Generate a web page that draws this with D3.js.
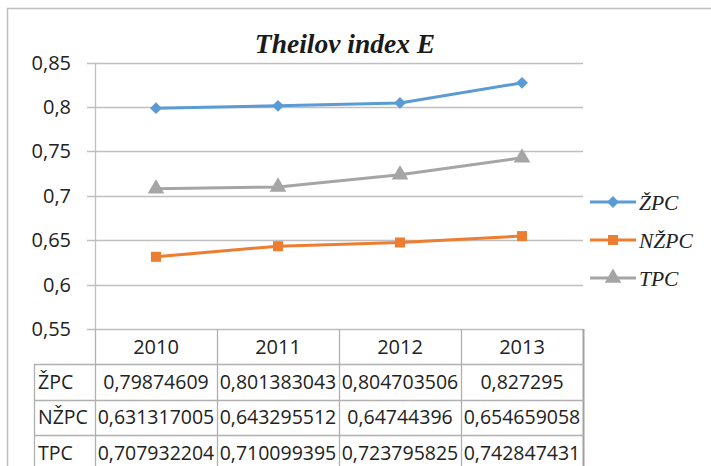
<!DOCTYPE html>
<html><head><meta charset="utf-8">
<script src="https://cdn.jsdelivr.net/npm/d3@7"></script>
<style>html,body{margin:0;padding:0;background:#fff;}svg{display:block;}</style>
</head><body>
<svg id="c" width="711" height="466"></svg>
<script>
const title = "Theilov index E";
const years = ["2010", "2011", "2012", "2013"];
const seriesNames = ["ŽPC", "NŽPC", "TPC"];
const zpc = [0.79874609, 0.801383043, 0.804703506, 0.827295];
const nzpc = [0.631317005, 0.643295512, 0.64744396, 0.654659058];
const tpc = [0.707932204, 0.710099395, 0.723795825, 0.742847431];
const zpcText = ["0,79874609", "0,801383043", "0,804703506", "0,827295"];
const nzpcText = ["0,631317005", "0,643295512", "0,64744396", "0,654659058"];
const tpcText = ["0,707932204", "0,710099395", "0,723795825", "0,742847431"];
const yTicks = [0.55, 0.6, 0.65, 0.7, 0.75, 0.8, 0.85];
const yTickLabels = ["0,55", "0,6", "0,65", "0,7", "0,75", "0,8", "0,85"];

const colors = ["#5B9BD5", "#ED7D31", "#A5A5A5"];
const values = [zpc, nzpc, tpc];
const texts = [zpcText, nzpcText, tpcText];
const markers = [d3.symbolSquare, d3.symbolSquare, d3.symbolTriangle];
const markerSizes = [70, 100, 120];
const markerRot = [45, 0, 0];

const svg = d3.select("#c");
const gridCol = "#BFBFBF", tableCol = "#B0B0B0";
const sansFont = "'Open Sans', sans-serif";
const serifFont = "'Liberation Serif', 'Times New Roman', serif";

// outer border
svg.append("path").attr("d", "M7.5,466 V8.5 H711").attr("fill", "none").attr("stroke", "#C0C0C0").attr("stroke-width", 1.5);

const x = d3.scaleBand().domain(years).range([95, 583]);
const y = d3.scaleLinear().domain([0.55, 0.85]).range([329, 62.7]);

// gridlines
svg.append("g").selectAll("line").data(yTicks).join("line")
  .attr("x1", 87).attr("x2", 583)
  .attr("y1", d => Math.round(y(d)) + 0.5).attr("y2", d => Math.round(y(d)) + 0.5)
  .attr("stroke", gridCol).attr("stroke-width", 1.3);

// y axis line
svg.append("line").attr("x1", 95.5).attr("x2", 95.5).attr("y1", y(0.85)).attr("y2", y(0.55))
  .attr("stroke", gridCol).attr("stroke-width", 1.3);

// y labels
svg.append("g").selectAll("text").data(yTicks).join("text")
  .attr("x", 71).attr("y", d => y(d)).attr("dy", "0.35em")
  .attr("text-anchor", "end").attr("font-family", sansFont).attr("font-size", 20)
  .attr("fill", "#222").text((d, i) => yTickLabels[i]);

// title
svg.append("text").attr("x", 345).attr("y", 53).attr("text-anchor", "middle")
  .attr("font-family", serifFont).attr("font-style", "italic").attr("font-weight", "bold")
  .attr("font-size", 27.5).attr("fill", "#1a1a1a").text(title);

// lines & markers
const cx = d => x(d) + x.bandwidth() / 2;
values.forEach((vals, si) => {
  const line = d3.line().x((d, i) => cx(years[i])).y(d => y(d));
  svg.append("path").datum(vals).attr("d", line).attr("fill", "none")
    .attr("stroke", colors[si]).attr("stroke-width", 3).attr("stroke-linejoin", "round");
  svg.append("g").selectAll("path").data(vals).join("path")
    .attr("transform", (d, i) => `translate(${cx(years[i])},${y(d)}) rotate(${markerRot[si]})`)
    .attr("d", d3.symbol().type(markers[si]).size(markerSizes[si]))
    .attr("fill", colors[si]);
});

// legend
const legY = [202, 240, 278];
seriesNames.forEach((n, i) => {
  const g = svg.append("g");
  g.append("line").attr("x1", 590).attr("x2", 636).attr("y1", legY[i]).attr("y2", legY[i])
    .attr("stroke", colors[i]).attr("stroke-width", 3);
  g.append("path").attr("transform", `translate(613,${legY[i]}) rotate(${markerRot[i]})`)
    .attr("d", d3.symbol().type(markers[i]).size(markerSizes[i])).attr("fill", colors[i]);
  g.append("text").attr("x", 639).attr("y", legY[i]).attr("dy", "0.35em")
    .attr("font-family", serifFont).attr("font-style", "italic").attr("font-size", 21.5)
    .attr("fill", "#222").text(n);
});

// data table
const rowTops = [364, 399.5, 435, 470.5];
const tLeft = 34, tRight = 584;
const tg = svg.append("g");
const colEdges = years.map(yr => x(yr)).concat([583]);
colEdges.forEach((cxv, i) => {
  const last = i === colEdges.length - 1;
  tg.append("line").attr("x1", Math.round(cxv) + 0.5).attr("x2", Math.round(cxv) + 0.5)
    .attr("y1", 329).attr("y2", 466)
    .attr("stroke", last ? "#A0A0A0" : tableCol).attr("stroke-width", last ? 2 : 1.3);
});
tg.append("line").attr("x1", tLeft + 0.5).attr("x2", tLeft + 0.5).attr("y1", rowTops[0]).attr("y2", 466)
  .attr("stroke", tableCol).attr("stroke-width", 1.3);
rowTops.slice(0, 3).forEach(ry => {
  tg.append("line").attr("x1", tLeft).attr("x2", tRight).attr("y1", Math.round(ry) + 0.5).attr("y2", Math.round(ry) + 0.5)
    .attr("stroke", tableCol).attr("stroke-width", 1.3);
});
tg.selectAll("text.yr").data(years).join("text").attr("class", "yr")
  .attr("x", d => cx(d)).attr("y", 347).attr("dy", "0.35em").attr("text-anchor", "middle")
  .attr("font-family", sansFont).attr("font-size", 20).attr("fill", "#222").text(d => d);
seriesNames.forEach((n, ri) => {
  const my = (rowTops[ri] + rowTops[ri + 1]) / 2;
  tg.append("text").attr("x", 38).attr("y", my).attr("dy", "0.35em")
    .attr("font-family", sansFont).attr("font-size", 19.5).attr("fill", "#222").text(n);
  tg.selectAll(null).data(texts[ri]).join("text")
    .attr("x", (d, i) => cx(years[i])).attr("y", my).attr("dy", "0.35em").attr("text-anchor", "middle")
    .attr("font-family", sansFont).attr("font-size", 19.5).attr("fill", "#222").text(d => d);
});
</script>
</body></html>
